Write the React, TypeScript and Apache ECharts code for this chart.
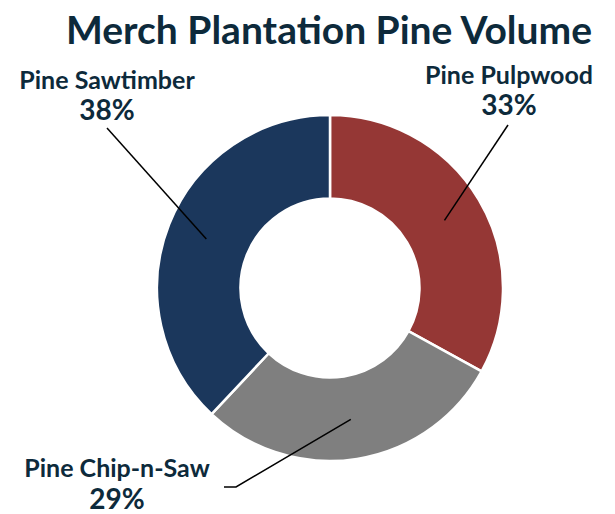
import React, { useEffect, useRef } from "react";
import * as echarts from "echarts";

const TITLE = "Merch Plantation Pine Volume";
const categories = ["Pine Pulpwood", "Pine Chip-n-Saw", "Pine Sawtimber"];
const shares = [33, 29, 38];
const colors = ["#953735", "#7f7f7f", "#1b375c"];
// label anchor (block centre) and leader-line end for each slice
const labelAnchors = [
  [509, 85.5],
  [117, 479],
  [107, 90.5],
];
const lineEnds = [
  [[508, 125]],
  [[236, 487], [224, 487]],
  [[107, 128]],
];

const TEXT_COLOR = "#0d2a3b";
const FONT = "Lato, 'Noto Sans', sans-serif";
const CX = 330;
const CY = 288;
const R_IN = 89.5;
const R_OUT = 173;
const LINE_START_R = 133;

export default function App() {
  const ref = useRef<HTMLDivElement>(null);
  useEffect(() => {
    if (!ref.current) return;
    const chart = echarts.init(ref.current, null, { renderer: "svg" });
    const data = categories.map((name, i) => ({
      name,
      value: shares[i],
      itemStyle: { color: colors[i] },
    }));
    chart.setOption({
      animation: false,
      backgroundColor: "#ffffff",
      graphic: [
        {
          type: "text",
          x: 329,
          y: 29,
          style: {
            text: TITLE,
            fill: TEXT_COLOR,
            font: `bold 39px ${FONT}`,
            align: "center",
            verticalAlign: "middle",
          },
        },
      ],
      series: [
        {
          type: "pie",
          z: 2,
          center: [CX, CY],
          radius: [R_IN, R_OUT],
          startAngle: 90,
          clockwise: true,
          data,
          itemStyle: { borderColor: "#ffffff", borderWidth: 2.5 },
          emphasis: { disabled: true },
          label: { show: false },
          labelLine: { show: false },
          silent: true,
        },
        {
          type: "pie",
          z: 5,
          center: [CX, CY],
          radius: [R_IN, R_OUT],
          startAngle: 90,
          clockwise: true,
          avoidLabelOverlap: false,
          silent: true,
          data: data.map((d) => ({ ...d, itemStyle: { color: "rgba(0,0,0,0)" } })),
          itemStyle: { borderWidth: 0 },
          emphasis: { disabled: true },
          label: {
            show: true,
            position: "outside",
            align: "center",
            color: TEXT_COLOR,
            fontFamily: FONT,
            fontWeight: "bold",
            formatter: (p: any) => `{n|${p.name}}\n{p|${Math.round(p.percent)}%}`,
            rich: {
              n: {
                fontSize: 25,
                lineHeight: 37,
                fontWeight: "bold",
                fontFamily: FONT,
                color: TEXT_COLOR,
                align: "center",
              },
              p: {
                fontSize: 28,
                lineHeight: 24,
                fontWeight: "bold",
                fontFamily: FONT,
                color: TEXT_COLOR,
                align: "center",
              },
            },
          },
          labelLine: {
            show: true,
            length: 10,
            length2: 10,
            lineStyle: { color: "#000000", width: 1.5 },
          },
          labelLayout: (params: any) => {
            const i = params.dataIndex;
            const pts = params.labelLinePoints;
            let start = [CX, CY];
            if (pts && pts[0]) {
              const dx = pts[0][0] - CX;
              const dy = pts[0][1] - CY;
              const d = Math.sqrt(dx * dx + dy * dy) || 1;
              start = [CX + (dx / d) * LINE_START_R, CY + (dy / d) * LINE_START_R];
            }
            const ends = lineEnds[i];
            const linePts =
              ends.length === 1
                ? [start, ends[0], ends[0]]
                : [start, ends[0], ends[1]];
            return {
              x: labelAnchors[i][0],
              y: labelAnchors[i][1],
              align: "center",
              verticalAlign: "middle",
              labelLinePoints: linePts,
            };
          },
        },
      ],
    });
    return () => chart.dispose();
  }, []);
  return (
    <div
      ref={ref}
      style={{ position: "fixed", left: 0, top: 0, width: 615, height: 514 }}
    />
  );
}
